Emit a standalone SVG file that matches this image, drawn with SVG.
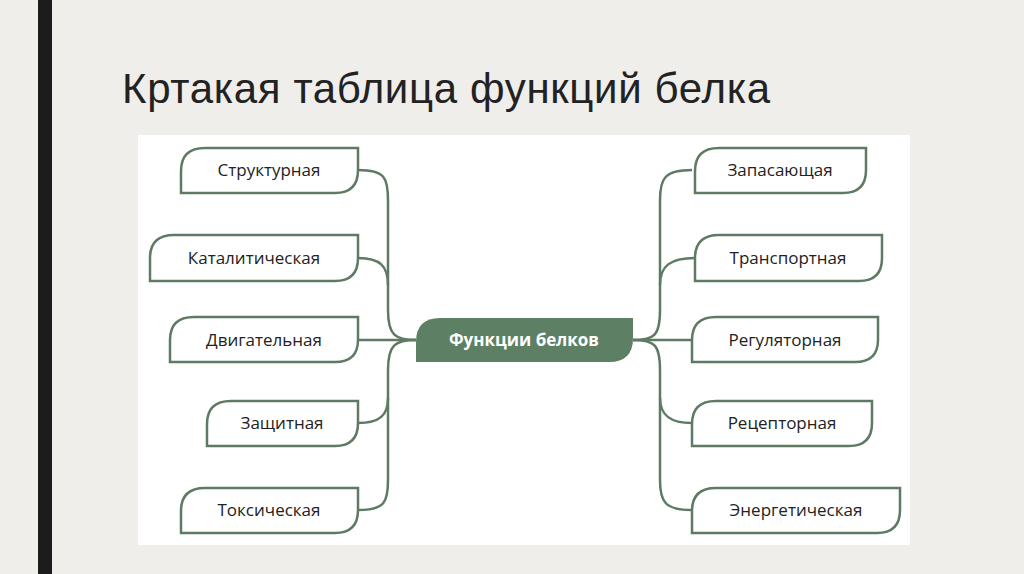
<svg xmlns="http://www.w3.org/2000/svg" width="1024" height="574" viewBox="0 0 1024 574">
<style>
.n{fill:#fff;stroke:#5f7a63;stroke-width:2.5}
.t{font-family:"Open Sans","Liberation Sans",sans-serif;font-size:17px;fill:#222;text-anchor:middle}
.c{fill:none;stroke:#5f7a63;stroke-width:2.5}
</style>
<rect width="1024" height="574" fill="#efeeea"/>
<rect x="38" y="0" width="14" height="574" fill="#1c1c1c"/>
<text x="122" y="103" font-family="Liberation Sans,sans-serif" font-size="42" fill="#222" textLength="648">Кртакая таблица функций белка</text>
<rect x="138" y="135" width="772" height="410" fill="#fff"/>
<g id="connectors" class="c">
<path d="M358,170 C385,170 388,178 388,200 V310 C388,335 395,340 416,340"/>
<path d="M358,258 C380,258 388,266 388,285"/>
<path d="M358,340 H416"/>
<path d="M358,423 C380,423 388,415 388,398"/>
<path d="M358,510 C385,510 388,502 388,480 V370 C388,345 395,340 416,340"/>
<path d="M692,170 C665,170 660,178 660,200 V310 C660,335 655,340 633,340"/>
<path d="M695,258 C670,258 660,266 660,285"/>
<path d="M633,340 H692"/>
<path d="M692,423 C670,423 660,415 660,398"/>
<path d="M692,510 C665,510 660,502 660,480 V370 C660,345 655,340 633,340"/>
</g>
<g id="center"><path d="M440,318 H633 V338 Q633,362 609,362 H416 V342 Q416,318 440,318 Z" fill="#5d7f63"/><text x="524" y="346" class="t" style="fill:#fff;font-weight:bold">Функции белков</text></g>
<g id="n1"><path class="n" d="M205,148 H358 V170 Q358,193 335,193 H181 V171 Q181,148 205,148 Z"/><text x="269" y="176" class="t">Структурная</text></g>
<g id="n2"><path class="n" d="M174,235 H358 V258 Q358,281 335,281 H150 V258 Q150,235 174,235 Z"/><text x="254" y="264" class="t">Каталитическая</text></g>
<g id="n3"><path class="n" d="M194,317 H358 V340 Q358,362 335,362 H170 V340 Q170,317 194,317 Z"/><text x="264" y="346" class="t">Двигательная</text></g>
<g id="n4"><path class="n" d="M231,401 H358 V423 Q358,446 335,446 H207 V424 Q207,401 231,401 Z"/><text x="282" y="429" class="t">Защитная</text></g>
<g id="n5"><path class="n" d="M205,488 H358 V510 Q358,533 335,533 H181 V511 Q181,488 205,488 Z"/><text x="269" y="516" class="t">Токсическая</text></g>
<g id="n6"><path class="n" d="M719,148 H866 V170 Q866,193 843,193 H695 V171 Q695,148 719,148 Z"/><text x="780" y="176" class="t">Запасающая</text></g>
<g id="n7"><path class="n" d="M719,235 H882 V258 Q882,281 859,281 H695 V258 Q695,235 719,235 Z"/><text x="788" y="264" class="t">Транспортная</text></g>
<g id="n8"><path class="n" d="M716,317 H878 V340 Q878,362 855,362 H692 V340 Q692,317 716,317 Z"/><text x="785" y="346" class="t">Регуляторная</text></g>
<g id="n9"><path class="n" d="M716,401 H872 V423 Q872,446 849,446 H692 V424 Q692,401 716,401 Z"/><text x="782" y="429" class="t">Рецепторная</text></g>
<g id="n10"><path class="n" d="M716,488 H900 V510 Q900,533 877,533 H692 V511 Q692,488 716,488 Z"/><text x="796" y="516" class="t">Энергетическая</text></g>
</svg>
